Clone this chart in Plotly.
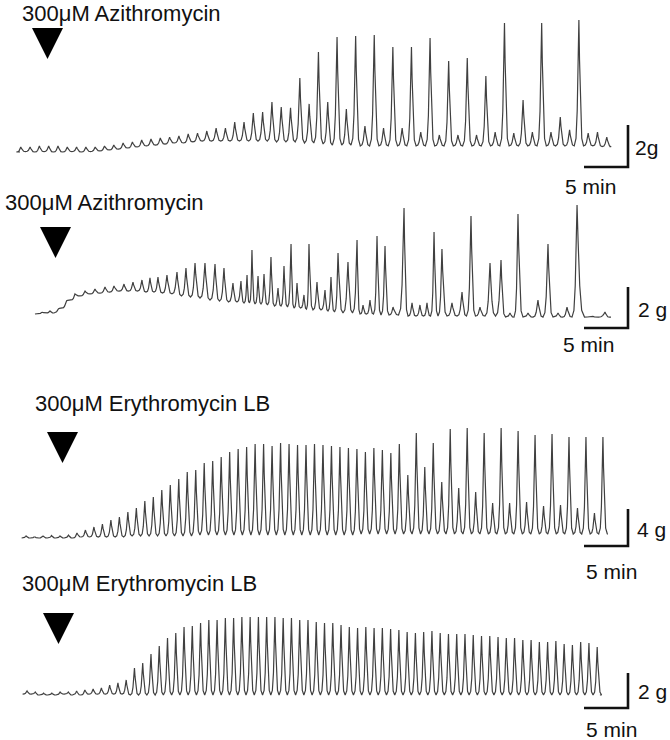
import plotly.graph_objects as go

W, H = 670, 740

# ---------------- data (grams / minutes) ----------------
# Panel 1: 300uM Azithromycin (regular beats)
P1_START, P1_INTERVAL = 0.09, 1.057
P1_PEAKS = [0.24, 0.24, 0.29, 0.29, 0.29, 0.24, 0.24, 0.24, 0.24, 0.29,
            0.33, 0.43, 0.48, 0.57, 0.62, 0.67, 0.71, 0.76, 0.86, 0.90,
            1.00, 1.14, 1.14, 1.43, 1.43, 1.86, 1.90, 2.38, 2.14, 2.10,
            3.52, 2.29, 4.76, 2.38, 5.48, 2.05, 5.52, 1.24, 5.57, 1.14,
            5.00, 1.14, 5.00, 0.95, 5.43, 0.81, 4.33, 0.81, 4.48, 0.81,
            3.62, 0.95, 6.14, 0.90, 2.48, 0.95, 6.14, 0.95, 1.67, 1.05,
            6.29, 0.90, 0.95, 0.71]
P1_TROUGHS = [0.00, 0.02, 0.00, 0.02, 0.00, 0.00, 0.02, 0.00, 0.02, 0.05,
              0.10, 0.14, 0.19, 0.24, 0.29, 0.33, 0.38, 0.43, 0.43, 0.48,
              0.52, 0.52, 0.52, 0.52, 0.52, 0.52, 0.52, 0.52, 0.48, 0.48,
              0.48, 0.43, 0.43, 0.38, 0.33, 0.33, 0.33, 0.29, 0.29, 0.29,
              0.29, 0.29, 0.29, 0.29, 0.29, 0.29, 0.29, 0.29, 0.29, 0.29,
              0.29, 0.29, 0.29, 0.29, 0.29, 0.29, 0.29, 0.29, 0.29, 0.29,
              0.29, 0.29, 0.29, 0.26]
P1_SPAN = (0.0, 67.0)

# Panel 2: 300uM Azithromycin (irregular beats)
P2_TIMES = [2.50, 3.41, 4.32, 5.23, 6.25, 7.39, 8.52, 9.66, 10.68, 11.82,
            12.84, 13.86, 14.77, 15.68, 16.70, 17.84, 18.86, 19.89, 21.02, 22.16,
            23.18, 24.20, 25.11, 25.80, 26.36, 27.05, 27.73, 28.52, 29.32, 30.00,
            30.80, 31.48, 32.27, 32.84, 33.75, 34.66, 35.34, 36.14, 37.27, 38.30,
            38.98, 39.77, 40.57, 41.48, 42.39, 43.64, 44.55, 45.45, 46.25, 47.05,
            47.95, 49.09, 50.23, 51.25, 52.27, 53.41, 54.66, 55.68, 56.59, 57.73,
            58.86, 60.00, 61.14, 62.16, 63.30, 65.00, 66.48]
P2_PEAKS = [0.10, 0.15, 0.24, 0.63, 0.98, 1.12, 1.22, 1.32, 1.37, 1.46,
            1.56, 1.66, 1.76, 1.80, 1.90, 2.05, 2.24, 2.49, 2.49, 2.44,
            2.24, 1.51, 1.61, 1.90, 3.12, 1.85, 1.95, 2.78, 1.27, 2.34,
            3.41, 1.51, 0.93, 3.41, 1.56, 1.17, 1.80, 2.98, 2.54, 3.61,
            0.44, 0.68, 3.80, 3.32, 0.34, 5.17, 0.54, 0.44, 0.54, 4.00,
            3.17, 0.54, 1.07, 4.78, 0.34, 2.49, 2.63, 0.05, 4.88, 0.05,
            0.68, 3.41, 0.05, 0.34, 5.32, -0.10, 0.10]
P2_TROUGHS = [0.00, 0.05, 0.05, 0.29, 0.68, 0.88, 0.98, 1.02, 1.07, 1.12,
              1.12, 1.12, 1.07, 1.07, 1.02, 0.98, 0.88, 0.83, 0.78, 0.68,
              0.63, 0.59, 0.59, 0.54, 0.54, 0.49, 0.49, 0.44, 0.39, 0.39,
              0.34, 0.29, 0.29, 0.24, 0.20, 0.20, 0.15, 0.10, 0.05, 0.05,
              0.00, 0.00, 0.00, -0.05, -0.05, -0.05, -0.10, -0.10, -0.10, -0.10,
              -0.10, -0.10, -0.10, -0.10, -0.10, -0.10, -0.10, -0.15, -0.15, -0.15,
              -0.15, -0.15, -0.15, -0.15, -0.15, -0.15, -0.15]
P2_SPAN = (1.70, 67.16)

# Panel 3: 300uM Erythromycin LB
P3_START, P3_INTERVAL = 0.69, 0.964
P3_PEAKS = [0.22, 0.16, 0.22, 0.27, 0.22, 0.32, 0.54, 0.86, 1.19, 1.51,
            1.95, 2.27, 2.81, 3.24, 4.00, 4.43, 5.19, 5.73, 6.38, 7.14,
            7.35, 8.11, 8.32, 8.76, 9.30, 9.62, 9.84, 10.16, 10.16, 9.95,
            10.27, 10.16, 10.05, 10.05, 10.16, 10.05, 9.95, 9.84, 9.73, 9.62,
            9.30, 9.73, 9.51, 9.19, 10.16, 6.81, 11.35, 7.68, 10.27, 6.05,
            11.78, 5.41, 11.89, 4.97, 11.35, 3.78, 11.89, 3.78, 11.57, 3.89,
            11.14, 3.46, 11.24, 3.57, 10.92, 3.24, 10.92, 2.70, 10.92]
P3_TROUGHS = [0.00, 0.00, 0.00, 0.00, 0.00, 0.00, 0.00, 0.11, 0.11, 0.11,
              0.11, 0.11, 0.11, 0.22, 0.22, 0.22, 0.22, 0.22, 0.22, 0.22,
              0.22, 0.32, 0.32, 0.32, 0.32, 0.32, 0.32, 0.32, 0.32, 0.32,
              0.32, 0.32, 0.32, 0.32, 0.32, 0.32, 0.32, 0.32, 0.32, 0.32,
              0.43, 0.43, 0.43, 0.43, 0.43, 0.43, 0.43, 0.43, 0.43, 0.43,
              0.43, 0.43, 0.43, 0.43, 0.43, 0.43, 0.43, 0.43, 0.43, 0.43,
              0.43, 0.43, 0.43, 0.43, 0.43, 0.43, 0.43, 0.43, 0.43]
P3_SPAN = (0.34, 66.7)

# Panel 4: 300uM Erythromycin LB
P4_START, P4_INTERVAL = 0.80, 0.939
P4_PEAKS = [0.23, 0.17, 0.11, 0.11, 0.17, 0.17, 0.23, 0.29, 0.34, 0.40,
            0.57, 0.69, 0.86, 1.54, 1.83, 2.34, 2.80, 3.26, 3.54, 3.89,
            3.94, 4.11, 4.29, 4.29, 4.40, 4.40, 4.46, 4.46, 4.46, 4.46,
            4.46, 4.40, 4.40, 4.29, 4.29, 4.17, 4.11, 4.11, 4.00, 3.89,
            3.83, 3.89, 3.83, 3.83, 3.77, 3.71, 3.60, 3.54, 3.60, 3.66,
            3.54, 3.49, 3.49, 3.49, 3.43, 3.37, 3.37, 3.31, 3.26, 3.26,
            3.14, 3.14, 3.03, 3.03, 3.09, 2.91, 2.86, 3.03, 2.97, 2.74]
P4_TROUGHS = [0.05, 0.05, 0.00, 0.00, 0.00, 0.05, 0.00, 0.00, 0.05, 0.05,
              0.05, 0.05, 0.05, 0.00, 0.00, 0.00, 0.00, 0.00, 0.00, 0.00,
              0.00, 0.00, 0.00, 0.00, 0.00, 0.00, 0.00, 0.00, 0.00, 0.00,
              0.00, 0.00, 0.00, 0.00, 0.00, 0.00, 0.00, 0.00, 0.00, 0.00,
              0.00, 0.00, 0.00, 0.00, 0.00, 0.00, 0.00, 0.00, 0.00, 0.00,
              0.00, 0.00, 0.00, 0.00, 0.00, 0.00, 0.00, 0.00, 0.00, 0.00,
              0.00, 0.00, 0.00, 0.00, 0.00, 0.00, 0.00, 0.00, 0.00, 0.00]
P4_SPAN = (0.34, 65.9)

LABELS = ["300μM Azithromycin", "300μM Azithromycin",
          "300μM Erythromycin LB", "300μM Erythromycin LB"]
SCALE_G = [2, 2, 4, 2]
SCALE_G_TEXT = ["2g", "2 g", "4 g", "2 g"]
SCALE_MIN = 5
SCALE_MIN_TEXT = "5 min"

# ---------------- layout geometry (pixels) ----------------
PX_PER_MIN = 8.8
X0_PX = 20
# per panel: (pixel y of 0 g, pixels per g)
PANEL_Y = [(152, 21.0), (314, 20.5), (538, 9.25), (695, 17.5)]
BAR_X_PX = 628
BAR_BOTTOM_PX = [167, 328, 546, 708]
LABEL_POS = [(20, 13), (3, 203), (33, 403), (20, 583)]
TRI_POS = [(32, 28), (40, 227), (47, 432), (43, 613)]
TRI_W, TRI_H = 31, 31
GTEXT_POS = [(633, 148), (636, 310), (635, 529), (636, 691)]
MINTEXT_POS = [(590, 186), (588, 344), (611, 571), (611, 729)]
FONT = "Liberation Sans, Arial, sans-serif"
FS = 22
FS_SCALE = 21
TRACE_COLOR = "#404040"


def regular_times(start, interval, n):
    return [start + interval * i for i in range(n)]


def waveform(times, peaks, troughs, span):
    xs, ys = [span[0]], [troughs[0]]
    n = len(times)
    shape = [(0.62, 0.06), (0.36, 0.28), (0.14, 0.68)]
    for i in range(n):
        t, p = times[i], peaks[i]
        bl = troughs[i]
        br = troughs[i + 1] if i + 1 < n else troughs[i]
        hl = (t - times[i - 1]) / 2 if i > 0 else 0.5
        hr = (times[i + 1] - t) / 2 if i + 1 < n else 0.5
        xs.append(t - hl); ys.append(bl)
        for f, a in shape:
            xs.append(t - f * hl); ys.append(bl + a * (p - bl))
        xs.append(t); ys.append(p)
        for f, a in reversed(shape):
            xs.append(t + f * hr); ys.append(br + a * (p - br))
    xs.append(t + hr); ys.append(troughs[-1])
    xs.append(span[1]); ys.append(troughs[-1])
    return xs, ys


panels = [
    (regular_times(P1_START, P1_INTERVAL, len(P1_PEAKS)), P1_PEAKS, P1_TROUGHS, P1_SPAN),
    (P2_TIMES, P2_PEAKS, P2_TROUGHS, P2_SPAN),
    (regular_times(P3_START, P3_INTERVAL, len(P3_PEAKS)), P3_PEAKS, P3_TROUGHS, P3_SPAN),
    (regular_times(P4_START, P4_INTERVAL, len(P4_PEAKS)), P4_PEAKS, P4_TROUGHS, P4_SPAN),
]

fig = go.Figure()
yaxis_names = ["y", "y2", "y3", "y4"]

for k, (times, peaks, troughs, span) in enumerate(panels):
    xs, ys = waveform(times, peaks, troughs, span)
    fig.add_trace(go.Scatter(x=xs, y=ys, mode="lines", xaxis="x", yaxis=yaxis_names[k],
                             line=dict(color=TRACE_COLOR, width=1.2), hoverinfo="skip",
                             showlegend=False))
    # scale bars
    y0_px, s = PANEL_Y[k]
    bar_t = (BAR_X_PX - X0_PX) / PX_PER_MIN
    bar_g0 = (y0_px - BAR_BOTTOM_PX[k]) / s
    fig.add_trace(go.Scatter(x=[bar_t - SCALE_MIN, bar_t, bar_t],
                             y=[bar_g0, bar_g0, bar_g0 + SCALE_G[k]],
                             mode="lines", xaxis="x", yaxis=yaxis_names[k],
                             line=dict(color="#111111", width=2.6), hoverinfo="skip",
                             showlegend=False))

x_range = [-X0_PX / PX_PER_MIN, (W - X0_PX) / PX_PER_MIN]
layout = dict(
    width=W, height=H, autosize=False,
    margin=dict(l=0, r=0, t=0, b=0),
    paper_bgcolor="white", plot_bgcolor="white",
    xaxis=dict(range=x_range, visible=False, fixedrange=True, domain=[0, 1]),
)
for k in range(4):
    y0_px, s = PANEL_Y[k]
    rng = [(y0_px - H) / s, y0_px / s]
    key = "yaxis" if k == 0 else f"yaxis{k + 1}"
    ax = dict(range=rng, visible=False, fixedrange=True, domain=[0, 1], anchor="x")
    if k > 0:
        ax["overlaying"] = "y"
    layout[key] = ax
fig.update_layout(**layout)


def px(x, y):
    return x / W, 1 - y / H


annotations = []
shapes = []
for k in range(4):
    lx, ly = px(*LABEL_POS[k])
    annotations.append(dict(x=lx, y=ly, xref="paper", yref="paper", text=LABELS[k],
                            showarrow=False, xanchor="left", yanchor="middle",
                            font=dict(family=FONT, size=FS, color="#111111")))
    gx, gy = px(*GTEXT_POS[k])
    annotations.append(dict(x=gx, y=gy, xref="paper", yref="paper", text=SCALE_G_TEXT[k],
                            showarrow=False, xanchor="left", yanchor="middle",
                            font=dict(family=FONT, size=FS_SCALE, color="#111111")))
    mx, my = px(*MINTEXT_POS[k])
    annotations.append(dict(x=mx, y=my, xref="paper", yref="paper", text=SCALE_MIN_TEXT,
                            showarrow=False, xanchor="center", yanchor="middle",
                            font=dict(family=FONT, size=FS_SCALE, color="#111111")))
    tx, ty = TRI_POS[k]
    a = px(tx, ty); b = px(tx + TRI_W, ty); c = px(tx + TRI_W / 2, ty + TRI_H)
    shapes.append(dict(type="path", xref="paper", yref="paper",
                       path=f"M {a[0]},{a[1]} L {b[0]},{b[1]} L {c[0]},{c[1]} Z",
                       fillcolor="#000000", line=dict(width=0)))

fig.update_layout(annotations=annotations, shapes=shapes)
fig.write_html("out.html",
               config={"displayModeBar": False, "staticPlot": True},
               post_script="document.body.style.margin='0';"
                           "document.body.style.overflow='hidden';")
